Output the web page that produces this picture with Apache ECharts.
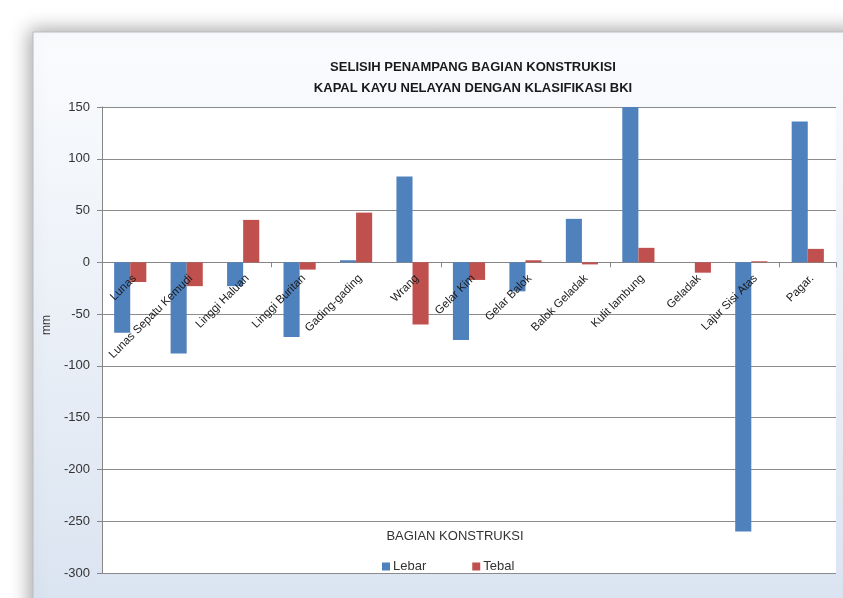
<!DOCTYPE html>
<html>
<head>
<meta charset="utf-8">
<script src="https://cdn.jsdelivr.net/npm/echarts@6/dist/echarts.min.js"></script>
<style>
html,body{margin:0;padding:0;background:#fff;}
#c{width:843px;height:598px;}
</style>
</head>
<body>
<div id="c"></div>
<script>
const categories = ['Lunas','Lunas Sepatu Kemudi','Linggi Haluan','Linggi Buritan','Gading-gading','Wrang','Gelar Kim','Gelar Balok','Balok Geladak','Kulit lambung','Geladak','Lajur Sisi Atas','Pagar.'];
const lebar = [-68, -88, -23, -72, 2, 83, -75, -28, 42, 150, 0, -260, 136];
const tebal = [-19, -23, 41, -7, 48, -60, -17, 2, -2, 14, -10, 1, 13];
const titleLines = ['SELISIH PENAMPANG BAGIAN KONSTRUKISI', 'KAPAL KAYU NELAYAN DENGAN KLASIFIKASI BKI'];
const xAxisTitle = 'BAGIAN KONSTRUKSI';
const yAxisTitle = 'mm';
const yMin = -300, yMax = 150;

const FONT = '"Liberation Sans", Arial, sans-serif';
const GRID = {left: 102, top: 107, right: 7, bottom: 25};
const plotH = 598 - GRID.top - GRID.bottom;
// distance from the plot bottom up to the zero line, so the category labels sit under the zero axis
const zeroOffset = -plotH * (0 - yMin) / (yMax - yMin);

const chart = echarts.init(document.getElementById('c'), null, {renderer:'canvas'});
chart.setOption({
  animation: false,
  backgroundColor: '#ffffff',
  graphic: [
    {
      type: 'rect', z: -10, silent: true,
      shape: {x: 33, y: 32, width: 830, height: 590},
      style: {
        fill: new echarts.graphic.LinearGradient(0, 0, 0, 1, [
          {offset: 0, color: '#fbfcfe'},
          {offset: 1, color: '#d9e3f0'}
        ]),
        stroke: '#b8bcc4', lineWidth: 1,
        shadowBlur: 18, shadowColor: 'rgba(0,0,0,0.35)', shadowOffsetX: -3, shadowOffsetY: -2
      }
    }
  ],
  title: [
    {
      text: titleLines.join('\n'),
      left: 468, top: 52, textAlign: 'center',
      textStyle: {fontFamily: FONT, fontSize: 13, fontWeight: 'bold', color: '#1a1a1a', lineHeight: 21}
    },
    {
      text: xAxisTitle,
      left: 450, top: 525, textAlign: 'center',
      textStyle: {fontFamily: FONT, fontSize: 13, fontWeight: 'normal', color: '#333'}
    }
  ],
  legend: {
    data: ['Lebar', 'Tebal'],
    left: 377, top: 555,
    itemWidth: 8, itemHeight: 8, itemGap: 46,
    icon: 'rect',
    textStyle: {fontFamily: FONT, fontSize: 13, color: '#333', padding: [0,0,0,-2]}
  },
  grid: Object.assign({
    outerBoundsMode: 'none', containLabel: false,
    show: true, backgroundColor: '#ffffff', borderWidth: 0
  }, GRID),
  xAxis: [
    {
      type: 'category',
      data: categories,
      axisLine: {onZero: true, lineStyle: {color: '#868686', width: 1}},
      axisTick: {show: true, length: 5, lineStyle: {color: '#868686'}},
      axisLabel: {show: false},
      splitLine: {show: false}
    },
    {
      type: 'category',
      data: categories,
      position: 'bottom',
      offset: zeroOffset,
      z: 20,
      axisLine: {show: false, onZero: false},
      axisTick: {show: false},
      axisLabel: {rotate: 45, interval: 0, margin: 10, verticalAlign: 'top', lineHeight: 12,
                  fontFamily: FONT, fontSize: 11.5, color: '#1a1a1a'},
      splitLine: {show: false}
    }
  ],
  yAxis: {
    type: 'value',
    min: yMin, max: yMax, interval: 50,
    name: yAxisTitle,
    nameLocation: 'middle', nameRotate: 90, nameGap: 48,
    nameTextStyle: {fontFamily: FONT, fontSize: 12, color: '#333', padding: [0,0,0,30]},
    axisLine: {show: true, lineStyle: {color: '#868686'}},
    axisTick: {show: true, length: 5, lineStyle: {color: '#868686'}},
    axisLabel: {margin: 12, fontFamily: FONT, fontSize: 13, color: '#333'},
    splitLine: {show: true, lineStyle: {color: '#8c8c8c', width: 1}}
  },
  series: [
    {name: 'Lebar', type: 'bar', xAxisIndex: 0, data: lebar, barGap: '0%', barCategoryGap: '43%', itemStyle: {color: '#4f81bd'}},
    {name: 'Tebal', type: 'bar', xAxisIndex: 0, data: tebal, barGap: '0%', barCategoryGap: '43%', itemStyle: {color: '#c0504d'}}
  ]
});
</script>
</body>
</html>
